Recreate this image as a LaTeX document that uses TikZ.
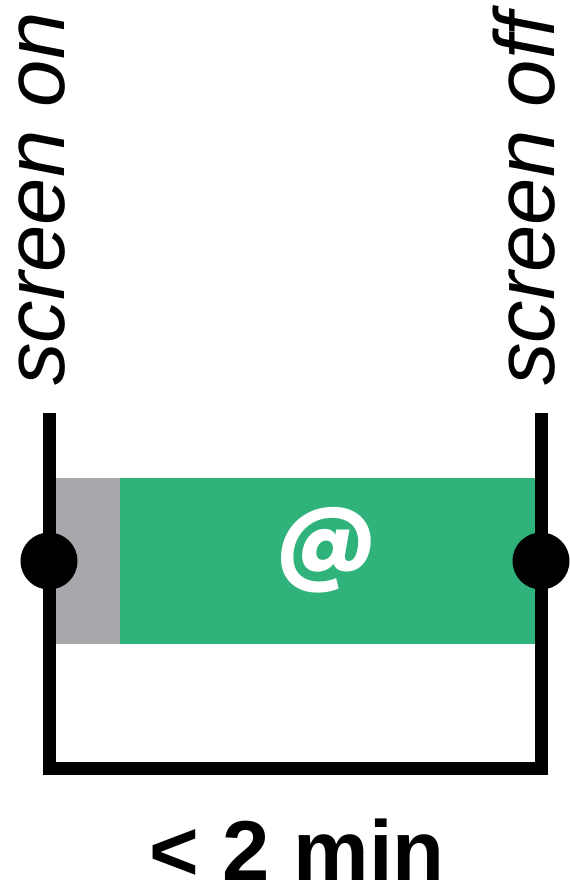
\documentclass[tikz,border=0pt]{standalone}
\usepackage{fontspec}
\setmainfont{Liberation Sans}
\newfontfamily\atfont{Poppins}[UprightFont=* Bold]
\definecolor{usegreen}{HTML}{2FB37A}
\definecolor{usegrey}{HTML}{A7A8AC}
\begin{document}
\begin{tikzpicture}[x=1pt,y=-1pt,
  bigtext/.style={inner sep=0pt,font=\fontsize{85}{100}\selectfont},
  event/.style={circle,fill=black,minimum size=57pt,inner sep=0pt},
  rail/.style={line width=13pt,line join=miter}]
\useasboundingbox (0,0) rectangle (570,886);
% usage bars
\fill[usegrey] (50,478) rectangle (120,644);
\fill[usegreen] (120,478) rectangle (537,644);
\node[inner sep=0pt,font=\fontsize{96}{100}\atfont,text=white] (at) at (326,550) {@};
% timeline bracket
\coordinate (ltop) at (49,413);
\coordinate (rtop) at (541,413);
\coordinate (lbot) at (49,768);
\coordinate (rbot) at (541,768);
\draw[rail] (ltop) -- (lbot) -- (rbot) -- (rtop);
\node[event] (on) at (49,561) {};
\node[event] (off) at (541,561) {};
% labels
\node[bigtext,font=\fontsize{85}{100}\selectfont\itshape,rotate=90,anchor=base west] (lon) at (64,386) {screen on};
\node[bigtext,font=\fontsize{85}{100}\selectfont\itshape,rotate=90,anchor=base west] (loff) at (554,386) {screen off};
\node[bigtext,font=\fontsize{85}{100}\selectfont\bfseries,anchor=base] (dur) at (297,880) {< 2 min};
\end{tikzpicture}
\end{document}
